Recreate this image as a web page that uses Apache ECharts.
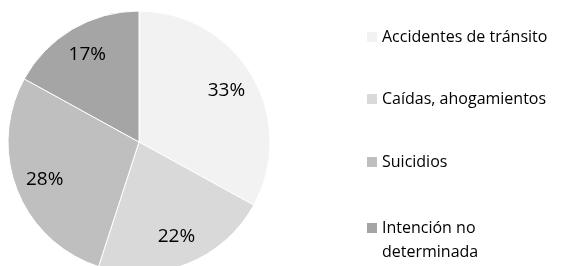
<!DOCTYPE html>
<html>
<head>
<meta charset="utf-8">
<script src="https://cdn.jsdelivr.net/npm/echarts@6/dist/echarts.min.js"></script>
<style>
  html, body { margin: 0; padding: 0; background: #fff; }
  #chart { width: 562px; height: 266px; }
</style>
</head>
<body>
<div id="chart"></div>
<script>
// datos
const categories = ['Accidentes de tránsito', 'Caídas, ahogamientos', 'Suicidios', 'Intención no determinada']
const values = [33, 22, 28, 17]
// la ultima etiqueta lleva una linea vacia arriba para que el icono quede en la primera linea
const legendLabels = ['Accidentes de tránsito', 'Caídas, ahogamientos', 'Suicidios', ' \nIntención no\ndeterminada']

const colorArr = ['#f2f2f2', '#d9d9d9', '#bfbfbf', '#a5a5a5']
const fontFamily = '"Open Sans", "Noto Sans", sans-serif'

const rowTops = [28.5, 90.5, 153.5, 192] // posicion de cada fila de la leyenda

const chart = echarts.init(document.getElementById('chart'))

const pieData = categories.map((name, i) => ({
  name: name,
  value: values[i],
  itemStyle: { color: colorArr[i] }
}))

const legends = categories.map((name, i) => {
  const last = i === categories.length - 1
  return {
    left: 367,
    top: rowTops[i],
    padding: 0,
    orient: 'vertical',
    icon: 'rect',
    itemWidth: 10,
    itemHeight: 10,
    itemGap: 0,
    selectedMode: false,
    itemStyle: { borderWidth: 0 },
    formatter: () => legendLabels[i],
    textStyle: {
      fontFamily: fontFamily,
      fontSize: 16,
      color: '#000',
      lineHeight: last ? 24 : 17
    },
    data: [name]
  }
})

chart.setOption({
  animation: false,
  color: colorArr,
  legend: legends,
  series: [
    {
      name: 'slices',
      type: 'pie',
      center: [139, 142],
      radius: [0, 131],
      startAngle: 90,
      clockwise: true,
      silent: true,
      itemStyle: { borderColor: '#fff', borderWidth: 1 },
      label: { show: false },
      labelLine: { show: false },
      data: pieData
    },
    {
      // anillo invisible solo para colocar las etiquetas de porcentaje
      name: 'labels',
      type: 'pie',
      center: [139, 142],
      radius: [66, 131],
      startAngle: 90,
      clockwise: true,
      silent: true,
      itemStyle: { color: 'rgba(0,0,0,0)', borderWidth: 0 },
      label: {
        show: true,
        position: 'inside',
        formatter: '{c}%',
        fontFamily: fontFamily,
        fontSize: 19,
        color: '#000'
      },
      labelLine: { show: false },
      data: categories.map((name, i) => ({ name: name, value: values[i] }))
    }
  ]
})
</script>
</body>
</html>
